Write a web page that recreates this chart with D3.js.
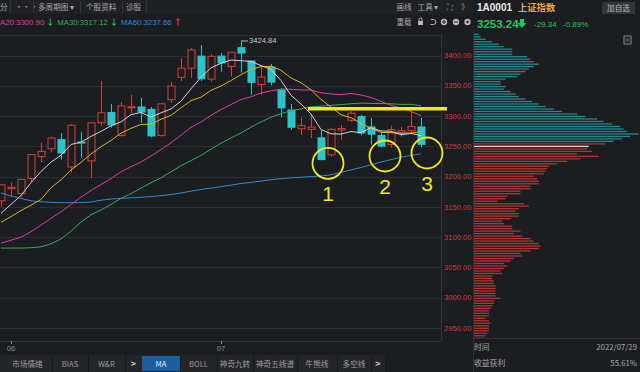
<!DOCTYPE html>
<html><head><meta charset="utf-8">
<script src="https://cdn.jsdelivr.net/npm/d3@7"></script>
<style>
html,body{margin:0;padding:0;background:#1c1d21;overflow:hidden}
svg{display:block;font-family:"Noto Sans CJK SC","Noto Sans",sans-serif}
</style></head><body>
<svg id="chart" width="640" height="372"></svg>
<script>
// daily candles, 2022-05-31 .. 2022-07-29
const dates = ["05-31","06-01","06-02","06-06","06-07","06-08","06-09","06-10","06-13","06-14","06-15","06-16","06-17","06-20","06-21","06-22","06-23","06-24","06-27","06-28","06-29","06-30",
  "07-01","07-04","07-05","07-06","07-07","07-08","07-11","07-12","07-13","07-14","07-15","07-18","07-19","07-20","07-21","07-22","07-25","07-26","07-27","07-28","07-29"];
const open  = [3160,3180,3172,3197,3233,3246,3261,3216,3257,3226,3289,3306,3268,3314,3315,3311,3268,3327,3364,3379,3399,3361,3399,3382,3413,3391,3352,3381,3343,3310,3279,3278,3264,3236,3277,3293,3299,3282,3268,3253,3272,3276,3282];
const high  = [3187,3190,3196,3237,3256,3266,3272,3286,3274,3290,3358,3320,3323,3335,3330,3315,3321,3356,3396,3412,3417,3402,3404,3406,3424.84,3392,3381,3386,3346,3320,3297,3300,3277,3280,3285,3308,3302,3297,3272,3284,3282,3307,3297];
const low   = [3150,3168,3167,3191,3224,3240,3228,3207,3231,3198,3284,3281,3266,3305,3289,3265,3266,3322,3358,3363,3358,3357,3373,3365,3372,3335,3335,3351,3298,3277,3269,3264,3227,3233,3261,3290,3268,3253,3248,3248,3266,3272,3248];
const close = [3186.43,3182.16,3195.46,3236.37,3241.76,3263.79,3238.95,3284.83,3255.55,3288.91,3305.41,3285.38,3316.79,3315.43,3306.72,3267.20,3320.15,3349.75,3379.19,3409.21,3361.52,3398.62,
  3387.64,3405.43,3404.03,3355.35,3364.40,3356.08,3313.58,3281.47,3284.29,3281.74,3228.06,3278.10,3279.43,3304.72,3272.00,3269.97,3250.39,3277.44,3275.76,3282.58,3253.24];

const ma5  = [3139.3,3154.2,3168.7,3189.9,3208.4,3223.9,3235.3,3253.1,3257.0,3266.4,3274.7,3284.0,3290.4,3302.4,3305.9,3298.3,3305.3,3311.9,3324.6,3345.1,3364.0,3379.7,
  3387.2,3392.5,3391.4,3390.2,3383.4,3377.1,3358.7,3334.2,3320.0,3303.4,3277.8,3270.7,3270.3,3274.4,3272.5,3280.8,3275.3,3274.9,3269.1,3271.2,3267.9];
const ma10 = [3124.4,3134.0,3143.9,3152.8,3162.3,3181.6,3194.8,3210.9,3223.5,3237.4,3249.3,3259.7,3271.8,3279.7,3286.2,3286.5,3294.7,3301.2,3313.5,3325.5,3331.2,3342.5,
  3349.6,3358.6,3368.3,3377.1,3381.6,3382.2,3375.6,3362.8,3355.1,3343.4,3327.5,3314.7,3302.3,3297.2,3288.0,3279.3,3273.0,3272.6,3271.8,3271.9,3274.4];
const ma20 = [3090,3095,3100,3109,3120,3131,3142,3154,3166,3177,3186.9,3196.8,3207.8,3216.3,3224.2,3234.1,3244.7,3256.0,3268.5,3281.5,3290.2,3301.1,
  3310.7,3319.1,3327.2,3331.8,3338.1,3341.7,3344.6,3344.2,3343.1,3343.0,3338.5,3336.6,3335.3,3337.2,3334.8,3330.7,3324.3,3317.7,3313.4,3307.6,3300.90];
const ma30 = [3082,3082,3082,3082.5,3084,3089,3097,3110,3125,3137,3145,3154,3164,3172,3181,3190,3198,3208,3218,3226.5,3235.0,3245.4,
  3255.1,3263.7,3272.2,3281.7,3290.3,3298.1,3304.2,3308.6,3311.9,3315.2,3316.3,3317.7,3318.9,3320.3,3321.4,3320.9,3320.7,3320.3,3319.3,3319.3,3317.12];
const ma60 = [3173,3168,3164,3160,3158.5,3157.5,3157,3157,3157,3158,3161,3163,3164,3165,3166,3167,3168.5,3170.5,3173,3176,3178.8,3181,
  3183.5,3186,3188.5,3190.5,3192.5,3195,3196.5,3198,3199,3200,3201,3203,3207,3211,3215,3219.5,3224,3228,3232,3235,3237.66];

const priceTicks = [2950,3000,3050,3100,3150,3200,3250,3300,3350,3400];

// chip distribution (筹码分布), top price level to bottom
const chipHigh = 3435, chipLow = 2933;
const chipVol = [15,20,35,55,75,90,115,115,115,160,170,180,195,180,165,155,140,130,95,80,80,95,90,110,125,135,155,175,195,215,
  240,265,310,335,370,390,415,440,450,460,495,470,445,420,395,345,340,355,310,375,320,280,250,225,220,215,210,180,190,
  195,195,170,170,140,140,100,95,70,150,165,135,125,135,135,110,85,90,115,115,140,120,145,170,180,195,200,195,170,140,
  145,120,110,90,100,90,80,85,55,55,60,60,65,65,65,65,65,80,60,60,55,50,45,45,45,35,45,50,45,45,45,40,35,30];
const avgCost = 3248;

// hand-drawn marks on the original
const supportMarks = [{label:"1", i:32.7, price:3222}, {label:"2", i:38.4, price:3234}, {label:"3", i:42.6, price:3239}];
const resistance = {price:3312, from:30.7, to:44.6};

const legendItems = [["A20:3300.90","#d640a8","↓","#22c35e"],["MA30:3317.12","#2fae5a","↓","#22c35e"],["MA60:3237.66","#2f86d0","↑","#e03c3c"]];
const tabs = ["市场情绪","BIAS","W&R",">","MA","BOLL","神奇九转","神奇五线谱","牛熊线","多空线",">"];

const W = 640, H = 372;
const plot = {left:0, right:441, top:35, bottom:341};
const svg = d3.select('#chart');

svg.append('rect').attr('width', W).attr('height', H).attr('fill', '#1c1d21');

const x = d3.scaleLinear().domain([0, dates.length - 1]).range([1, 421]);
const y = d3.scaleLinear().domain([2950, 3400]).range([328, 55.5]);

// grid
svg.append('g').selectAll('line').data(priceTicks).enter().append('line')
  .attr('x1', plot.left).attr('x2', plot.right)
  .attr('y1', d => Math.round(y(d)) + 0.5).attr('y2', d => Math.round(y(d)) + 0.5)
  .attr('stroke', '#2c2d32').attr('stroke-width', 1);

// frame lines
svg.append('line').attr('x1', plot.right + 0.5).attr('x2', plot.right + 0.5).attr('y1', plot.top).attr('y2', plot.bottom).attr('stroke', '#34353a');
svg.append('line').attr('x1', 473.5).attr('x2', 473.5).attr('y1', 30).attr('y2', H).attr('stroke', '#2f3035');
svg.append('line').attr('x1', 0).attr('x2', plot.right).attr('y1', plot.bottom + 0.5).attr('y2', plot.bottom + 0.5).attr('stroke', '#34353a');
svg.append('line').attr('x1', 0).attr('x2', plot.right).attr('y1', plot.top + 0.5).attr('y2', plot.top + 0.5).attr('stroke', '#2c2d32');

// price axis labels
svg.append('g').selectAll('text').data(priceTicks).enter().append('text')
  .attr('x', 444).attr('y', d => y(d) + 2.7)
  .attr('font-size', 7.6).attr('font-family', 'Liberation Sans, Arial, sans-serif')
  .attr('fill', '#cf3b3b').text(d => d.toFixed(2));

// x axis ticks
const monthStarts = dates.map((d, i) => ({d, i})).filter((o, k) => k > 0 && o.d.slice(0, 2) !== dates[k - 1].slice(0, 2));
const xt = svg.append('g').selectAll('g').data(monthStarts).enter().append('g');
xt.append('line').attr('x1', d => Math.round(x(d.i)) + 0.5).attr('x2', d => Math.round(x(d.i)) + 0.5)
  .attr('y1', plot.bottom).attr('y2', plot.bottom + 3).attr('stroke', '#8a8a8a');
xt.append('text').attr('x', d => x(d.i)).attr('y', 351).attr('text-anchor', 'middle')
  .attr('font-size', 7.6).attr('font-family', 'Liberation Sans, Arial, sans-serif').attr('fill', '#8c8c8c')
  .text(d => d.d.slice(0, 2));

// clip
svg.append('clipPath').attr('id', 'clip').append('rect')
  .attr('x', plot.left).attr('y', plot.top).attr('width', plot.right - plot.left).attr('height', plot.bottom - plot.top);
const g = svg.append('g').attr('clip-path', 'url(#clip)');

// candles
const up = '#d2413d', down = '#2cc3c9';
const candles = g.selectAll('g.c').data(dates.map((d, i) => i)).enter().append('g');
candles.append('line')
  .attr('x1', i => Math.round(x(i)) + 0.5).attr('x2', i => Math.round(x(i)) + 0.5)
  .attr('y1', i => y(high[i])).attr('y2', i => y(low[i]))
  .attr('stroke', i => close[i] >= open[i] ? up : down);
candles.append('rect')
  .attr('x', i => Math.round(x(i)) - 3).attr('width', 7)
  .attr('y', i => y(Math.max(open[i], close[i])))
  .attr('height', i => Math.max(1, Math.abs(y(open[i]) - y(close[i]))))
  .attr('fill', i => close[i] >= open[i] ? '#1c1d21' : down)
  .attr('stroke', i => close[i] >= open[i] ? up : down)
  .attr('stroke-width', 1);

// moving averages
const maSeries = [[ma60, '#2f86d0'], [ma30, '#2fae5a'], [ma20, '#d640a8'], [ma10, '#d9b52a'], [ma5, '#d2d2d2']];
const line = d3.line().x((d, i) => x(i)).y(d => y(d));
maSeries.forEach(([s, c]) => {
  g.append('path').datum(s).attr('d', line).attr('fill', 'none').attr('stroke', c).attr('stroke-width', 1);
});

// highest price note
const hi = d3.maxIndex(high);
svg.append('line').attr('x1', x(hi) + 1).attr('x2', x(hi) + 7).attr('y1', y(high[hi]) + 0.5).attr('y2', y(high[hi]) + 0.5).attr('stroke', '#bdbdbd');
svg.append('text').attr('x', x(hi) + 8).attr('y', y(high[hi]) + 3).attr('font-size', 7.6)
  .attr('font-family', 'Liberation Sans, Arial, sans-serif').attr('fill', '#c8c8c8').text(high[hi].toFixed(2));

// yellow annotations
const yel = '#eeea1c';
svg.append('line').attr('x1', x(resistance.from)).attr('x2', x(resistance.to))
  .attr('y1', y(resistance.price)).attr('y2', y(resistance.price)).attr('stroke', yel).attr('stroke-width', 3.6);
const mk = svg.append('g').selectAll('g').data(supportMarks).enter().append('g');
mk.append('circle').attr('cx', d => x(d.i)).attr('cy', d => y(d.price)).attr('r', 15.5)
  .attr('fill', 'none').attr('stroke', yel).attr('stroke-width', 1.8);
mk.append('text').attr('x', d => x(d.i)).attr('y', d => y(d.price) + 38).attr('text-anchor', 'middle')
  .attr('font-size', 21).attr('font-family', 'Liberation Sans, Arial, sans-serif').attr('fill', yel).text(d => d.label);

// chip distribution
const chipX = d3.scaleLinear().domain([0, 495]).range([474, 638.5]);
const chipPrice = d3.scaleLinear().domain([0, chipVol.length - 1]).range([chipHigh, chipLow]);
const avgIdx = d3.minIndex(chipVol, (v, i) => Math.abs(chipPrice(i) - avgCost));
svg.append('g').selectAll('rect').data(chipVol).enter().append('rect')
  .attr('x', 474).attr('y', (v, i) => y(chipPrice(i)) - 0.7)
  .attr('width', v => chipX(v) - 474).attr('height', 1.3)
  .attr('fill', (v, i) => i === avgIdx ? '#e9d6dc' : (chipPrice(i) > close[close.length - 1] + 4 ? '#1f8890' : '#b13434'));
svg.append('line').attr('x1', 474).attr('x2', W).attr('y1', 338.5).attr('y2', 338.5).attr('stroke', '#34353a');
// small doc icon
svg.append('rect').attr('x', 624).attr('y', 36).attr('width', 7).attr('height', 8).attr('fill', 'none').attr('stroke', '#8a8a8a').attr('stroke-width', 1);
svg.append('path').attr('d', 'M625.5,39h4M625.5,41h4').attr('stroke', '#8a8a8a').attr('stroke-width', 0.8);

// ===== header =====
const hdr = svg.append('g');
hdr.append('rect').attr('x', 0).attr('y', 0).attr('width', 473).attr('height', 14).attr('fill', '#202125');
const btns = [["分", 0], ["•••", 15], ["多周期图 ▾", 38], ["个股资料", 86], ["诊股", 126]];
btns.forEach(([t, bx]) => hdr.append('text').attr('x', bx).attr('y', 10)
  .attr('font-size', 7.6).attr('fill', '#a9a9a9').text(t));
[10, 33, 80, 122, 146].forEach(sx => hdr.append('line').attr('x1', sx + 0.5).attr('x2', sx + 0.5).attr('y1', 1).attr('y2', 13).attr('stroke', '#34353a'));

let lx = 0;
legendItems.forEach(([t, c, a, ac]) => {
  const tx = hdr.append('text').attr('x', lx).attr('y', 25).attr('font-size', 7.8)
    .attr('font-family', 'Liberation Sans, Arial, sans-serif').attr('fill', c).text(t);
  const w = tx.node().getComputedTextLength();
  hdr.append('text').attr('x', lx + w + 2).attr('y', 25).attr('font-size', 8).attr('font-weight', 'bold').attr('fill', ac).text(a);
  lx += w + 13;
});

[["画线", 404, 10], ["工具 ▾", 428, 10], ["重载", 404, 25]].forEach(([t, cx, ty]) =>
  hdr.append('text').attr('x', cx).attr('y', ty).attr('text-anchor', 'middle').attr('font-size', 7.6).attr('fill', '#a9a9a9').text(t));
hdr.append('text').attr('x', 450).attr('y', 10).attr('text-anchor', 'middle').attr('font-size', 8).attr('fill', '#8a8a8a').text('⛶');
hdr.append('text').attr('x', 465).attr('y', 10).attr('text-anchor', 'middle').attr('font-size', 8).attr('fill', '#8a8a8a').text('》');
// toolbar icons row 2
const ic = hdr.append('g').attr('fill', '#b8b8b8').attr('stroke', '#b8b8b8');
ic.append('rect').attr('x', 418).attr('y', 21).attr('width', 5).attr('height', 4).attr('stroke', 'none');
ic.append('path').attr('d', 'M419,21 v-1.5 a1.5,1.5 0 0 1 3,0 v1.5').attr('fill', 'none');
ic.append('path').attr('d', 'M431,19.5 h2.5 a2.5,2.5 0 0 1 0,5 h-3').attr('fill', 'none');
ic.append('circle').attr('cx', 444).attr('cy', 22).attr('r', 3.2).attr('stroke', 'none');
ic.append('circle').attr('cx', 456).attr('cy', 22).attr('r', 3.2).attr('stroke', 'none');
ic.append('circle').attr('cx', 467.5).attr('cy', 22).attr('r', 3.2).attr('stroke', 'none');
hdr.append('path').attr('d', 'M442,22h4M444,20v4M454,22h4').attr('stroke', '#202125').attr('stroke-width', 1);
hdr.append('circle').attr('cx', 467.5).attr('cy', 22).attr('r', 1.2).attr('fill', '#1c1d21');

// quote block
hdr.append('text').attr('x', 477).attr('y', 11).attr('font-size', 10).attr('font-weight', 'bold')
  .attr('font-family', 'Liberation Sans, Arial, sans-serif').attr('fill', '#e8e8e8').text('1A0001');
hdr.append('text').attr('x', 518).attr('y', 11).attr('font-size', 9.3).attr('font-weight', 'bold').attr('fill', '#e8a84a').text('上证指数');
hdr.append('rect').attr('x', 602).attr('y', 2).attr('width', 33).attr('height', 12).attr('rx', 1).attr('fill', '#35363b');
hdr.append('text').attr('x', 618.5).attr('y', 11).attr('text-anchor', 'middle').attr('font-size', 7.6).attr('fill', '#b5b5b5').text('加自选');
const last = close[close.length - 1], prev = close[close.length - 2];
const chg = last - prev;
hdr.append('text').attr('x', 477).attr('y', 28).attr('font-size', 11.5).attr('font-weight', 'bold')
  .attr('font-family', 'Liberation Sans, Arial, sans-serif').attr('fill', '#22c35e').text(last.toFixed(2));
hdr.append('path').attr('d', 'M520,19h4v4h2.5l-4.5,5l-4.5,-5h2.5z').attr('fill', '#22c35e');
hdr.append('text').attr('x', 534).attr('y', 27).attr('font-size', 8).attr('font-family', 'Liberation Sans, Arial, sans-serif')
  .attr('fill', '#22c35e').text(chg.toFixed(2));
hdr.append('text').attr('x', 563).attr('y', 27).attr('font-size', 8).attr('font-family', 'Liberation Sans, Arial, sans-serif')
  .attr('fill', '#22c35e').text((chg / prev * 100).toFixed(2) + '%');

// ===== bottom tabs =====
const bar = svg.append('g');
bar.append('rect').attr('x', 0).attr('y', 355).attr('width', 385).attr('height', 17).attr('fill', '#242529');
const tabEdges = [3, 52, 88, 125, 142, 180, 217, 253, 297, 337, 371, 385];
tabs.forEach((t, k) => {
  const a = tabEdges[k], b = tabEdges[k + 1];
  if (t === 'MA') bar.append('rect').attr('x', a).attr('y', 356).attr('width', b - a).attr('height', 15).attr('fill', '#1d5f9c');
  bar.append('line').attr('x1', b + 0.5).attr('x2', b + 0.5).attr('y1', 355).attr('y2', 372).attr('stroke', '#17181b');
  bar.append('text').attr('x', (a + b) / 2).attr('y', 367).attr('text-anchor', 'middle')
    .attr('font-size', t === '>' ? 9 : 7.6).attr('font-weight', t === '>' ? 'bold' : 'normal')
    .attr('fill', t === 'MA' ? '#e8eef5' : (t === '>' ? '#d0d0d0' : '#9d9d9d')).text(t);
});

// chip footer
[["时间", 474, 350, 'start'], ["2022/07/29", 637, 350, 'end'], ["收益获利", 474, 366, 'start'], ["55.61%", 637, 366, 'end']].forEach(([t, tx, ty, an]) =>
  svg.append('text').attr('x', tx).attr('y', ty).attr('text-anchor', an).attr('font-size', 7.8).attr('fill', '#a5a5a5').text(t));
</script>
</body></html>
